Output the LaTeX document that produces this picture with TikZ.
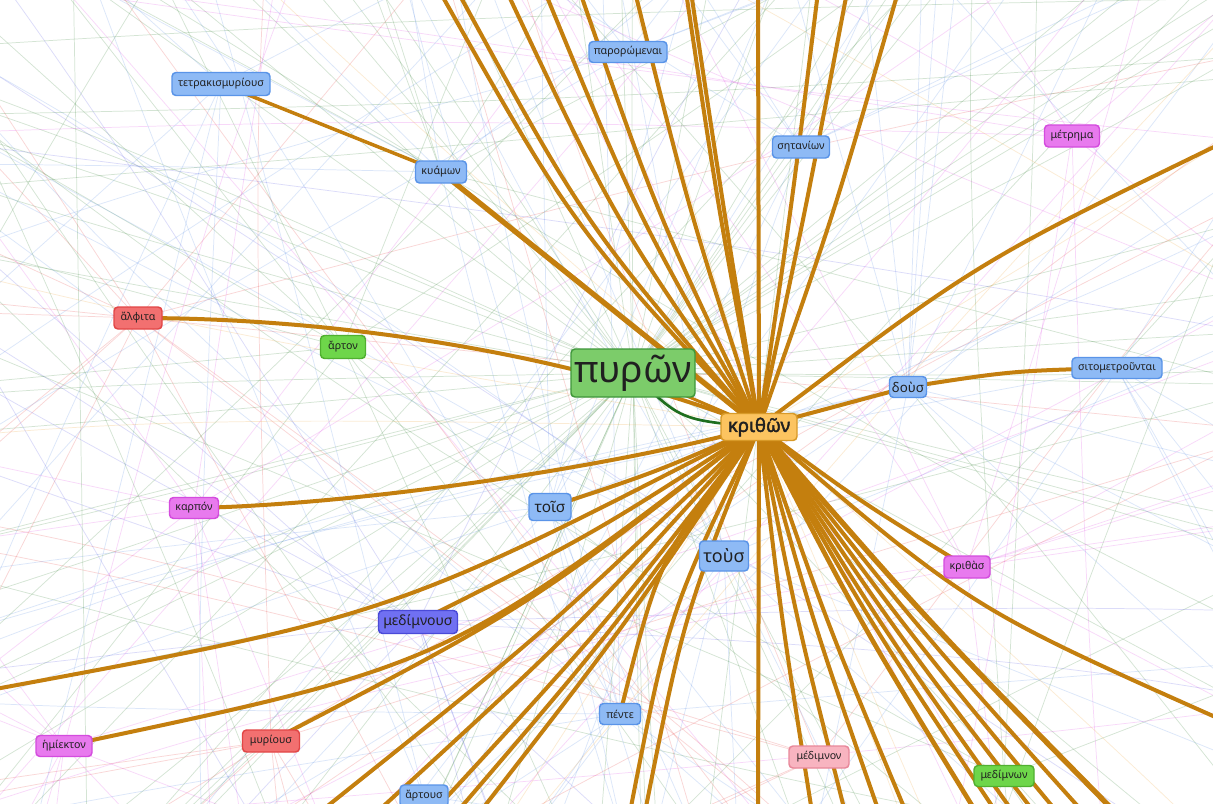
\documentclass[tikz,border=0pt]{standalone}
\usepackage{fontspec}
\setmainfont{Noto Sans}
\newfontfamily\kboldfont{Noto Sans}[FakeBold=2.2]
\usetikzlibrary{calc}
\pgfdeclarelayer{faint}
\pgfdeclarelayer{edges}
\pgfsetlayers{faint,edges,main}
\definecolor{edgeor}{RGB}{196,127,14}
\definecolor{bfill}{RGB}{142,186,245}
\definecolor{bdraw}{RGB}{90,148,232}
\definecolor{gfill}{RGB}{124,204,106}
\definecolor{gdraw}{RGB}{62,150,58}
\definecolor{lgfill}{RGB}{110,214,74}
\definecolor{lgdraw}{RGB}{80,176,48}
\definecolor{rfill}{RGB}{242,112,112}
\definecolor{rdraw}{RGB}{226,70,70}
\definecolor{mfill}{RGB}{232,122,238}
\definecolor{mdraw}{RGB}{212,76,222}
\definecolor{pfill}{RGB}{112,112,242}
\definecolor{pdraw}{RGB}{74,74,216}
\definecolor{pkfill}{RGB}{248,180,192}
\definecolor{pkdraw}{RGB}{232,136,154}
\definecolor{kfill}{RGB}{252,196,96}
\definecolor{kdraw}{RGB}{216,154,40}
\definecolor{txt}{RGB}{32,32,32}
\definecolor{fgreen}{RGB}{60,135,60}
\definecolor{fblue}{RGB}{95,145,230}
\definecolor{fpink}{RGB}{225,80,230}
\definecolor{fred}{RGB}{232,70,70}
\definecolor{forange}{RGB}{240,165,60}
\definecolor{fpurple}{RGB}{95,95,230}
\definecolor{dkgreen}{RGB}{30,110,30}
\tikzset{
  word/.style={rounded corners=3pt, line width=1.1pt, inner sep=0pt, text=txt,
    font=\fontsize{8}{9.6}\selectfont},
  sz/.style 2 args={minimum width=#1*0.75pt, minimum height=#2*0.75pt},
  blueword/.style={word, fill=bfill, draw=bdraw},
  greenword/.style={word, fill=gfill, draw=gdraw},
  lgreenword/.style={word, fill=lgfill, draw=lgdraw},
  redword/.style={word, fill=rfill, draw=rdraw},
  magword/.style={word, fill=mfill, draw=mdraw},
  purword/.style={word, fill=pfill, draw=pdraw},
  pinkword/.style={word, fill=pkfill, draw=pkdraw},
  kword/.style={word, fill=kfill, draw=kdraw, font=\kboldfont\fontsize{14}{16}\selectfont},
  oedge/.style={draw=edgeor, line width=3pt},
  faintline/.style={line width=0.55pt, opacity=0.22},
}
% offset > 0 bulges to the left of the direction of travel
\newcommand\cedge[4][]{\draw[oedge,#1] (#2) .. controls ($(#2)!0.5!(#3)!#4!90:(#3)$) .. (#3);}
% faint rays: x, y, count, colour, max offset
\newcommand\radiate[5]{%
  \foreach \i in {1,...,#3}{%
    \pgfmathsetmacro\ang{rnd*360}%
    \pgfmathsetmacro\off{(rnd-0.5)*2*#5}%
    \pgfmathsetmacro\ex{#1+1400*cos(\ang)}%
    \pgfmathsetmacro\ey{#2+1400*sin(\ang)}%
    \pgfmathsetmacro\cx{#1+700*cos(\ang)-\off*sin(\ang)}%
    \pgfmathsetmacro\cy{#2+700*sin(\ang)+\off*cos(\ang)}%
    \draw[faintline,#4] (#1,#2) .. controls (\cx,\cy) .. (\ex,\ey);
  }}
\begin{document}
\begin{tikzpicture}[x=0.75pt,y=-0.75pt]
\useasboundingbox (0,0) rectangle (1213,803);
% nodes
\node[blueword, sz={98}{23}] (tetr) at (221,84) {τετρακισμυρίουσ};
\node[blueword, sz={78}{21}] (paror) at (628,52) {παρορώμεναι};
\node[blueword, sz={51}{22}] (kyam) at (441,172) {κυάμων};
\node[blueword, sz={57}{22}] (setan) at (801,147) {σητανίων};
\node[magword, sz={55}{22}] (metr) at (1072,136) {μέτρημα};
\node[redword, sz={48}{22}] (alph) at (138,318) {ἄλφιτα};
\node[lgreenword, sz={45}{23}] (arton) at (343,347) {ἄρτον};
\node[greenword, sz={124}{48}, font=\fontsize{28}{30}\selectfont] (pyr) at (633,373) {πυρῶν};
\node[kword, sz={76}{27}] (k) at (759,427) {κριθῶν};
\node[blueword, sz={37}{21}, font=\fontsize{10}{12}\selectfont] (dous) at (908,387) {δοὺσ};
\node[blueword, sz={90}{21}] (sitom) at (1117,368) {σιτομετροῦνται};
\node[magword, sz={49}{21}] (karp) at (194,508) {καρπόν};
\node[blueword, sz={42}{27}, font=\fontsize{11.5}{13}\selectfont] (tois) at (550,507) {τοῖσ};
\node[blueword, sz={49}{30}, font=\fontsize{13.5}{15}\selectfont] (tous) at (724,556) {τοὺσ};
\node[magword, sz={46}{22}] (krithas) at (967,567) {κριθὰσ};
\node[purword, sz={79}{23}, font=\fontsize{10.5}{12}\selectfont] (medimnous) at (418,622) {μεδίμνουσ};
\node[blueword, sz={41}{21}] (pente) at (620,714) {πέντε};
\node[magword, sz={56}{21}] (hemi) at (64,746) {ἡμίεκτον};
\node[redword, sz={57}{22}] (myr) at (271,741) {μυρίουσ};
\node[blueword, sz={48}{22}] (artous) at (424,796) {ἄρτουσ};
\node[pinkword, sz={60}{22}] (medimnon) at (819,757) {μέδιμνον};
\node[lgreenword, sz={60}{21}] (medimnon2) at (1004,776) {μεδίμνων};
% free ends of connectors
\coordinate (T1) at (440,-8);  \coordinate (T2) at (458,-8);
\coordinate (T3) at (507,-8);  \coordinate (T4) at (545,-8);
\coordinate (T5) at (580,-8);  \coordinate (T6) at (635,-8);
\coordinate (T7) at (686,-8);  \coordinate (T8) at (691,-8);
\coordinate (T9) at (758,-8);  \coordinate (T10) at (818,-8);
\coordinate (T11) at (847,-8); \coordinate (T12) at (898,-8);
\coordinate (R1) at (1222,143); \coordinate (R2) at (1222,720);
\coordinate (L1) at (-10,690);
\coordinate (B1) at (320,812);  \coordinate (B2) at (377,812);
\coordinate (B3) at (433,812);  \coordinate (B4) at (457,812);
\coordinate (B5) at (480,812);  \coordinate (B6) at (630,812);
\coordinate (B7) at (645,812);  \coordinate (B8) at (758,812);
\coordinate (B9) at (812,812);  \coordinate (B10) at (845,812);
\coordinate (B11) at (879,812); \coordinate (B12) at (906,812);
\coordinate (B13) at (976,812); \coordinate (B14) at (996,812);
\coordinate (B15) at (1013,812);\coordinate (B16) at (1034,812);
\coordinate (B17) at (1057,812);\coordinate (B18) at (1083,812);
\coordinate (B19) at (1115,812);
% faint background
\begin{pgfonlayer}{faint}
\fill[white] (0,0) rectangle (1213,803);
\clip (0,0) rectangle (1213,803);
\pgfmathsetseed{4217}
\radiate{633}{373}{65}{fgreen}{60}
\radiate{343}{347}{12}{fgreen}{60}
\radiate{1004}{776}{8}{fgreen}{60}
\radiate{441}{172}{8}{fgreen}{60}
\radiate{138}{318}{14}{fred}{60}
\radiate{271}{741}{10}{fred}{60}
\radiate{819}{757}{6}{fred}{60}
\radiate{194}{508}{10}{fpink}{60}
\radiate{64}{746}{12}{fpink}{60}
\radiate{967}{567}{10}{fpink}{60}
\radiate{1072}{136}{8}{fpink}{60}
\radiate{221}{84}{6}{fblue}{60}
\radiate{628}{52}{6}{fblue}{60}
\radiate{441}{172}{6}{fblue}{60}
\radiate{801}{147}{8}{fblue}{60}
\radiate{908}{387}{14}{fblue}{60}
\radiate{1117}{368}{6}{fblue}{60}
\radiate{550}{507}{12}{fblue}{60}
\radiate{724}{556}{14}{fblue}{60}
\radiate{620}{714}{14}{fblue}{60}
\radiate{424}{796}{8}{fblue}{60}
\radiate{418}{622}{12}{fpurple}{60}
\radiate{759}{427}{10}{forange}{60}
\pgfmathdeclarerandomlist{fcols}{{fgreen}{fgreen}{fgreen}{fgreen}{fblue}{fblue}{fblue}{fpink}{fpink}{fred}{forange}{fpurple}}
\foreach \i in {1,...,45}{%
  \pgfmathsetmacro\xa{rnd*1213}%
  \pgfmathsetmacro\ya{rnd*803}%
  \pgfmathsetmacro\ang{rnd*180}%
  \pgfmathsetmacro\off{(rnd-0.5)*160}%
  \pgfmathsetmacro\ax{\xa+1400*cos(\ang)}%
  \pgfmathsetmacro\ay{\ya+1400*sin(\ang)}%
  \pgfmathsetmacro\bx{\xa-1400*cos(\ang)}%
  \pgfmathsetmacro\by{\ya-1400*sin(\ang)}%
  \pgfmathsetmacro\cx{\xa-\off*sin(\ang)}%
  \pgfmathsetmacro\cy{\ya+\off*cos(\ang)}%
  \pgfmathrandomitem{\fc}{fcols}%
  \draw[faintline,\fc] (\ax,\ay) .. controls (\cx,\cy) .. (\bx,\by);
}
\end{pgfonlayer}
% orange connectors
\begin{pgfonlayer}{edges}
\clip (0,0) rectangle (1213,803);
\cedge{k.center}{T1}{24pt}
\cedge{k.center}{T2}{21pt}
\cedge{k.center}{T3}{16pt}
\cedge{k.center}{T4}{12pt}
\cedge{k.center}{T5}{10pt}
\cedge{k.center}{T6}{6pt}
\cedge{k.center}{T7}{3pt}
\cedge{k.center}{T8}{1pt}
\cedge{k.center}{T9}{0pt}
\cedge{k.center}{T10}{-2pt}
\cedge{k.center}{T11}{-2pt}
\cedge{k.center}{T12}{-5pt}
\cedge{k.center}{R1}{20pt}
\cedge{k.center}{R2}{-30pt}
\cedge{k.center}{L1}{45pt}
\cedge{k.center}{B1}{10pt}
\cedge{k.center}{B2}{10pt}
\cedge{k.center}{B3}{8pt}
\cedge{k.center}{B4}{8pt}
\cedge{k.center}{B5}{6pt}
\cedge{k.center}{B6}{-20pt}
\cedge{k.center}{B7}{-14pt}
\cedge{k.center}{B8}{0pt}
\cedge{k.center}{B9}{-3pt}
\cedge{k.center}{B10}{-4pt}
\cedge{k.center}{B11}{-5pt}
\cedge{k.center}{B12}{-5pt}
\cedge[line width=3.5pt]{k.center}{B13}{-6pt}
\cedge{k.center}{B14}{-6pt}
\cedge{k.center}{B15}{-6pt}
\cedge{k.center}{B16}{-6pt}
\cedge{k.center}{B17}{-6pt}
\cedge{k.center}{B18}{-6pt}
\cedge[line width=4pt]{k.center}{B19}{-6pt}
\cedge{k.center}{krithas.center}{-4pt}
\cedge{k.center}{pente.center}{-25pt}
\cedge{k.center}{tois.center}{4pt}
\cedge{k.center}{medimnous.center}{8pt}
\cedge{k.center}{myr.center}{20pt}
\cedge{k.center}{hemi.center}{65pt}
\cedge[line width=4pt]{k.center}{kyam.center}{0pt}
\cedge[line width=2.6pt]{kyam.center}{tetr.center}{0pt}
\cedge{k.center}{dous.center}{0pt}
\cedge{dous.center}{sitom.center}{5pt}
\draw[oedge] (alph.center) .. controls (330,318) and (560,350) .. (k.center);
\draw[oedge] (karp.center) .. controls (350,505) and (600,470) .. (k.center);
\draw[oedge, line width=2.2pt] (pyr.center) -- (k.center);
\draw[dkgreen, line width=2pt] (pyr.center) .. controls (680,420) .. (k.center);
\end{pgfonlayer}
\end{tikzpicture}
\end{document}
